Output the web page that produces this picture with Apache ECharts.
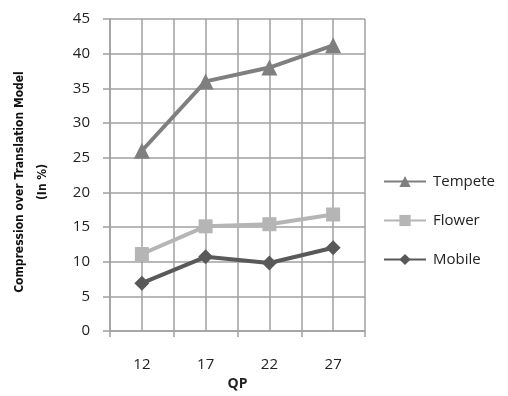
<!DOCTYPE html>
<html>
<head>
<meta charset="utf-8">
<script src="https://cdn.jsdelivr.net/npm/echarts@6/dist/echarts.min.js"></script>
<style>
  html, body { margin: 0; padding: 0; background: #fff; }
  #chart { width: 508px; height: 396px; }
</style>
</head>
<body>
<div id="chart"></div>
<script>
// QP settings on the category axis
const qp = ['12', '17', '22', '27'];
// Compression gain over the translation model, in percent
const tempete = [26, 36, 38, 41.2];
const flower = [11.1, 15.1, 15.4, 16.8];
const mobile = [6.9, 10.7, 9.8, 12.0];
// Value-axis ticks
const yTicks = [0, 5, 10, 15, 20, 25, 30, 35, 40, 45];

const labelFont = '"Open Sans", "Liberation Sans", sans-serif';
const gridColor = '#a0a0a0';

const chart = echarts.init(document.getElementById('chart'), null, { renderer: 'canvas' });

function seriesDef(name, data, color, symbol, size) {
  return {
    name: name,
    type: 'line',
    data: data,
    xAxisIndex: 0,
    symbol: symbol,
    symbolSize: size,
    lineStyle: { color: color, width: 4 },
    itemStyle: { color: color },
    emphasis: { disabled: true },
    animation: false,
    z: 3
  };
}

chart.setOption({
  animation: false,
  grid: { left: 110, right: 143, top: 19, bottom: 65, containLabel: false, outerBoundsMode: 'none' },
  legend: {
    orient: 'vertical',
    left: 383,
    top: 174,
    padding: 0,
    itemWidth: 42,
    itemHeight: 14,
    itemGap: 24,
    textStyle: { fontFamily: labelFont, fontSize: 15, color: '#222', padding: [0, 0, 0, 2] },
    data: ['Tempete', 'Flower', 'Mobile']
  },
  xAxis: [
    {
      type: 'category',
      data: qp,
      boundaryGap: true,
      name: 'QP',
      nameLocation: 'middle',
      nameGap: 46,
      nameTextStyle: { fontFamily: labelFont, fontSize: 14, fontWeight: 'bold', color: '#222' },
      axisLine: { lineStyle: { color: gridColor, width: 1.5 } },
      axisTick: { show: true, length: 6, lineStyle: { color: gridColor, width: 1.5 } },
      axisLabel: { fontFamily: labelFont, fontSize: 15, color: '#222', margin: 26 },
      splitLine: { show: false }
    },
    {
      // finer vertical grid: one line per half category
      type: 'category',
      data: ['', '', '', '', '', '', '', ''],
      boundaryGap: true,
      position: 'bottom',
      axisLine: { show: false },
      axisTick: { show: false },
      axisLabel: { show: false },
      splitLine: { show: true, lineStyle: { color: gridColor, width: 1.5 } }
    }
  ],
  yAxis: {
    type: 'value',
    min: yTicks[0],
    max: yTicks[yTicks.length - 1],
    interval: 5,
    name: 'Compression over Translation Model\n(In %)',
    nameLocation: 'middle',
    nameGap: 56,
    nameRotate: 90,
    nameTextStyle: {
      fontFamily: '"DejaVu Sans Condensed", "Liberation Sans Narrow", sans-serif',
      fontSize: 12, fontWeight: 'bold', color: '#111', lineHeight: 23,
      padding: [0, 14, 0, 0]
    },
    axisLine: { show: true, lineStyle: { color: gridColor, width: 1.5 } },
    axisTick: { show: true, length: 7, lineStyle: { color: gridColor, width: 1.5 } },
    axisLabel: { fontFamily: labelFont, fontSize: 15, color: '#222', margin: 20 },
    splitLine: { show: true, lineStyle: { color: gridColor, width: 1.5 } }
  },
  series: [
    seriesDef('Tempete', tempete, '#7f7f7f', 'triangle', 16),
    seriesDef('Flower', flower, '#b5b5b5', 'rect', 14),
    seriesDef('Mobile', mobile, '#595959', 'diamond', 15)
  ]
});
</script>
</body>
</html>
